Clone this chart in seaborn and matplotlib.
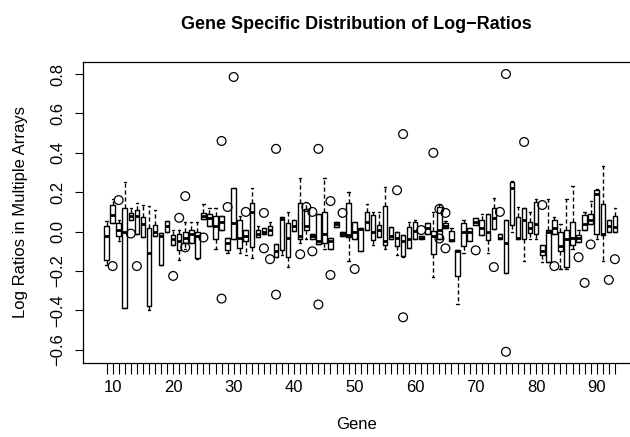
import numpy as np
import pandas as pd
import matplotlib
matplotlib.use("Agg")
import matplotlib.pyplot as plt
import seaborn as sns

# gene index on the x axis (one box per gene)
genes = list(range(9, 94))

# box summaries (log ratios)
q1 = [-0.145, 0.045, -0.02, -0.39, 0.06, -0.01, -0.025, -0.38, -0.02, -0.17,
      0.0, -0.068, -0.093, -0.06, -0.06, -0.135, 0.065, 0.03, -0.04, 0.008,
      -0.095, -0.035, -0.085, -0.05, -0.08, -0.025, -0.01, -0.015, -0.13, -0.095,
      -0.13, 0.005, -0.04, 0.01, -0.04, -0.065, -0.06, -0.09, 0.025, -0.02,
      -0.025, -0.035, -0.1, 0.01, -0.045, -0.025, -0.07, -0.035, -0.075, -0.125,
      -0.085, -0.035, -0.04, -0.01, -0.115, -0.04, 0.02, -0.05, -0.225, -0.075,
      -0.05, 0.035, -0.015, -0.045, 0.015, -0.04, -0.21, 0.035, -0.035, -0.035,
      -0.005, -0.01, -0.12, -0.155, -0.01, -0.1, -0.18, -0.07, -0.055, 0.01,
      0.04, -0.01, -0.015, 0.0, 0.0]
med = [-0.02, 0.085, 0.01, 0.0, 0.08, 0.08, 0.04, -0.11, 0.0, -0.02,
       0.03, -0.04, -0.05, -0.03, -0.01, -0.02, 0.08, 0.07, 0.03, 0.05,
       -0.06, 0.045, -0.03, -0.02, 0.1, -0.01, 0.0, 0.01, -0.1, 0.065,
       -0.03, 0.03, -0.02, 0.03, -0.02, -0.05, -0.01, -0.05, 0.04, -0.01,
       -0.015, 0.0, 0.015, 0.05, 0.0, 0.01, -0.05, -0.02, -0.03, -0.05,
       -0.035, 0.005, -0.03, 0.02, -0.02, 0.01, 0.03, -0.045, -0.1, 0.0,
       0.0, 0.05, 0.02, 0.0, 0.07, -0.03, -0.06, 0.22, -0.03, 0.06,
       0.02, 0.04, -0.1, 0.0, 0.02, -0.075, -0.035, -0.03, -0.03, 0.04,
       0.06, 0.19, -0.01, 0.03, 0.025]
q3 = [0.03, 0.135, 0.045, 0.12, 0.095, 0.11, 0.075, 0.02, 0.035, -0.005,
      0.054, -0.017, -0.01, 0.0, 0.01, 0.0, 0.095, 0.09, 0.08, 0.08,
      -0.03, 0.22, 0.06, 0.008, 0.145, 0.008, 0.02, 0.03, -0.065, 0.075,
      0.045, 0.06, 0.145, 0.115, -0.01, 0.09, 0.1, -0.03, 0.05, 0.0,
      0.145, 0.05, 0.02, 0.1, 0.085, 0.035, 0.13, 0.025, 0.0, -0.015,
      0.025, 0.05, -0.02, 0.045, 0.005, 0.125, 0.045, 0.005, -0.095, 0.045,
      0.02, 0.07, 0.06, 0.09, 0.12, -0.01, 0.06, 0.25, 0.075, 0.12,
      0.05, 0.15, -0.07, 0.01, 0.06, 0.0, 0.01, 0.05, -0.015, 0.085,
      0.09, 0.21, 0.14, 0.06, 0.08]
whisk_lo = [-0.17, 0.045, -0.05, -0.39, 0.06, -0.01, -0.025, -0.40, -0.02, -0.17,
            0.0, -0.068, -0.145, -0.09, -0.06, -0.14, 0.065, 0.03, -0.09, 0.008,
            -0.11, -0.035, -0.11, -0.12, -0.135, -0.025, -0.01, -0.015, -0.13, -0.12,
            -0.18, 0.005, -0.06, -0.04, -0.04, -0.065, -0.09, -0.09, 0.025, -0.02,
            -0.15, -0.035, -0.1, 0.01, -0.07, -0.025, -0.09, -0.035, -0.12, -0.13,
            -0.085, -0.035, -0.04, -0.01, -0.23, -0.04, 0.02, -0.05, -0.365, -0.11,
            -0.05, 0.035, -0.015, -0.11, 0.015, -0.04, -0.21, 0.0, -0.04, -0.15,
            -0.04, -0.035, -0.155, -0.155, -0.01, -0.19, -0.19, -0.09, -0.055, 0.01,
            0.04, -0.035, -0.15, 0.0, 0.0]
whisk_hi = [0.055, 0.165, 0.06, 0.25, 0.12, 0.145, 0.135, 0.13, 0.11, -0.005,
            0.054, 0.01, 0.01, 0.05, 0.05, 0.05, 0.14, 0.12, 0.12, 0.08,
            -0.03, 0.22, 0.08, 0.008, 0.22, 0.03, 0.02, 0.05, -0.065, 0.075,
            0.1, 0.06, 0.27, 0.15, -0.01, 0.09, 0.27, -0.03, 0.05, 0.0,
            0.2, 0.05, 0.02, 0.14, 0.1, 0.1, 0.225, 0.025, 0.0, -0.015,
            0.05, 0.06, -0.02, 0.045, 0.1, 0.14, 0.055, 0.02, -0.095, 0.06,
            0.02, 0.07, 0.09, 0.09, 0.17, -0.01, 0.06, 0.255, 0.125, 0.12,
            0.1, 0.165, -0.07, 0.165, 0.075, 0.04, 0.165, 0.23, 0.01, 0.1,
            0.155, 0.215, 0.335, 0.06, 0.12]

# outlying values drawn as open circles
out_gene = [10, 11, 13, 14, 20, 21, 22, 22, 25, 28, 28, 29, 30, 32, 35, 35, 36,
            37, 37, 41, 42, 43, 43, 44, 44, 46, 46, 48, 50, 57, 58, 58, 61, 63,
            64, 64, 65, 65, 70, 73, 74, 75, 75, 78, 81, 83, 87, 88, 89, 92, 93]
out_value = [-0.175, 0.16, -0.01, -0.175, -0.225, 0.07, 0.18, -0.08, -0.03, 0.46,
             -0.34, 0.125, 0.785, 0.1, 0.095, -0.085, -0.14, 0.42, -0.32, -0.115,
             0.125, 0.1, -0.1, 0.42, -0.37, 0.155, -0.22, 0.095, -0.19, 0.21,
             0.495, -0.435, 0.008, 0.4, 0.115, -0.035, 0.095, -0.085, -0.095, -0.18,
             0.1, 0.80, -0.61, 0.455, 0.135, -0.175, -0.13, -0.26, -0.065, -0.245,
             -0.14]

rows = []
for i, g in enumerate(genes):
    for v in [whisk_lo[i], q1[i], med[i], q3[i], whisk_hi[i]]:
        rows.append({"gene": g, "ratio": v})
df = pd.DataFrame(rows)

sns.set_style("ticks")
plt.rcParams["font.family"] = ["Liberation Sans", "DejaVu Sans"]
plt.rcParams["text.color"] = "black"
plt.rcParams["axes.labelcolor"] = "black"

fig = plt.figure(figsize=(6.3, 4.37), dpi=100)
ax = fig.add_axes([83 / 630, 1 - 363 / 437, 1 - 83 / 630, 301 / 437])

sns.boxplot(
    data=df,
    x="gene",
    y="ratio",
    native_scale=True,
    whis=np.inf,
    width=0.75,
    fill=False,
    color="black",
    linewidth=1.0,
    showfliers=False,
    medianprops=dict(linewidth=2),
    whiskerprops=dict(linestyle=(0, (3, 2))),
    ax=ax
)

sns.scatterplot(
    x=out_gene,
    y=out_value,
    marker="o",
    s=40,
    facecolor="none",
    edgecolor="black",
    linewidth=0.9,
    ax=ax
)

ax.set_xlim(5.1, 95.5)
ax.set_ylim(-0.667, 0.861)

ax.set_xticks(genes)
ax.set_xticklabels([str(g) if g % 10 == 0 else "" for g in genes])
ax.set_yticks([-0.6, -0.4, -0.2, 0.0, 0.2, 0.4, 0.6, 0.8])
ax.set_yticklabels(["\u22120.6", "\u22120.4", "\u22120.2", "0.0", "0.2", "0.4", "0.6", "0.8"],
                   rotation=90, va="center")
ax.tick_params(axis="x", length=8, width=0.8, pad=4, colors="black", labelsize=12)
ax.tick_params(axis="y", length=6, width=0.8, pad=7, colors="black", labelsize=12)

for side in ["left", "bottom", "top"]:
    ax.spines[side].set_linewidth(0.9)
    ax.spines[side].set_color("black")
ax.spines["right"].set_visible(False)

ax.set_xlabel("Gene", fontsize=12)
ax.set_ylabel("Log Ratios in Multiple Arrays", fontsize=12)
ax.xaxis.set_label_coords(0.5, -0.18)
ax.yaxis.set_label_coords(-0.1, 0.5)
ax.set_title("Gene Specific Distribution of Log\u2212Ratios",
             fontsize=13, fontweight="bold", pad=24)

fig.savefig("out.png", dpi=100)
